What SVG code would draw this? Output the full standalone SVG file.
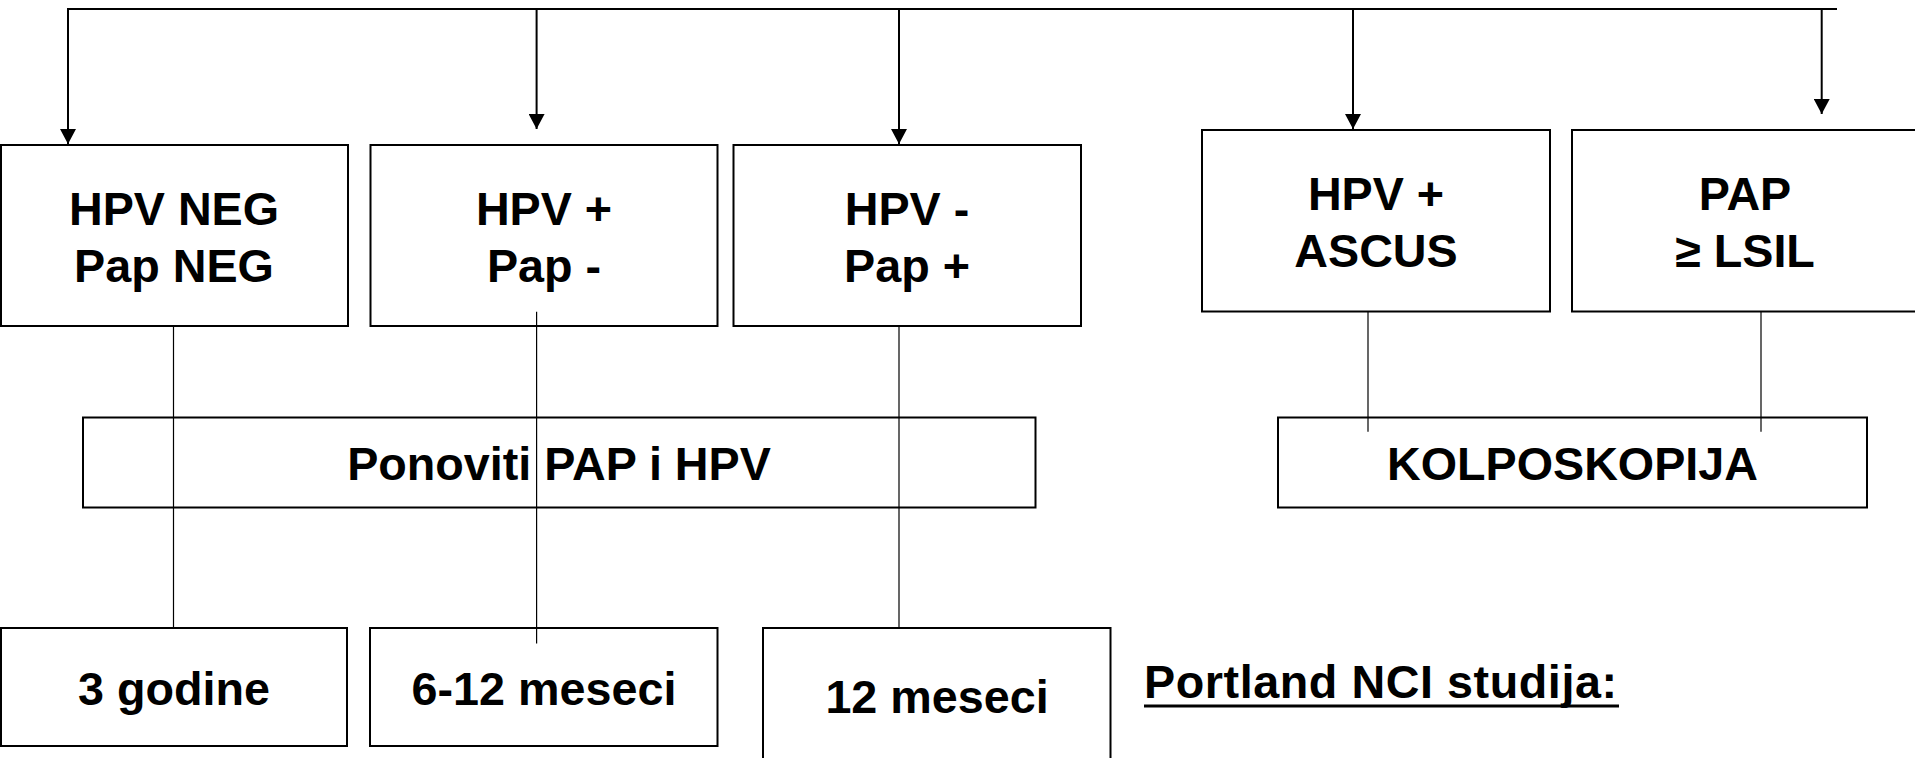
<svg xmlns="http://www.w3.org/2000/svg" width="1915" height="758" viewBox="0 0 1915 758">
<defs>
<style>
.box{fill:#fff;stroke:#000;stroke-width:2}
.t{font-family:"Liberation Sans",Arial,sans-serif;font-weight:bold;font-size:46.7px;fill:#000;text-anchor:middle}
.arr{stroke:#000;stroke-width:2;fill:none}
.thin{stroke:#000;stroke-width:1.2;fill:none}
</style>
<marker id="ah" markerWidth="15" markerHeight="16" refX="15" refY="8" orient="auto" markerUnits="userSpaceOnUse" viewBox="0 0 15 16">
<path d="M0,0 L15,8 L0,16 Z" fill="#000"/>
</marker>
</defs>
<rect width="1915" height="758" fill="#fff"/>
<g id="n1"><rect class="box" x="1" y="145" width="347" height="181"/><text class="t" x="174" y="225">HPV NEG</text><text class="t" x="174" y="282">Pap NEG</text></g>
<g id="n2"><rect class="box" x="370.5" y="145" width="347" height="181"/><text class="t" x="544" y="225">HPV +</text><text class="t" x="544" y="282">Pap -</text></g>
<g id="n3"><rect class="box" x="733.5" y="145" width="347.5" height="181"/><text class="t" x="907" y="225">HPV -</text><text class="t" x="907" y="282">Pap +</text></g>
<g id="n4"><rect class="box" x="1202" y="130" width="348" height="181.5"/><text class="t" x="1376" y="210">HPV +</text><text class="t" x="1376" y="267">ASCUS</text></g>
<g id="n5"><rect class="box" x="1572" y="130" width="350" height="181.5"/><text class="t" x="1745" y="210">PAP</text><text class="t" x="1745" y="267">≥ LSIL</text></g>
<g id="n6"><rect class="box" x="83" y="417.5" width="952.5" height="90"/><text class="t" x="559" y="480">Ponoviti PAP i HPV</text></g>
<g id="n7"><rect class="box" x="1278" y="417.5" width="589" height="90"/><text class="t" x="1572.5" y="480">KOLPOSKOPIJA</text></g>
<g id="n8"><rect class="box" x="1" y="628" width="346" height="118"/><text class="t" x="174" y="705">3 godine</text></g>
<g id="n9"><rect class="box" x="370" y="628" width="347.5" height="118"/><text class="t" x="544" y="705">6-12 meseci</text></g>
<g id="n10"><rect class="box" x="763" y="628" width="347.5" height="140"/><text class="t" x="937" y="713">12 meseci</text></g>
<g id="n11"><text class="t" x="1144" y="698" style="text-anchor:start" textLength="473" lengthAdjust="spacing">Portland NCI studija:</text><line x1="1144" y1="706" x2="1619" y2="706" stroke="#000" stroke-width="3"/></g>
<g id="connectors">
<polyline class="arr" points="1837,9 68,9 68,144" marker-end="url(#ah)"/>
<line class="arr" x1="536.6" y1="9" x2="536.6" y2="129" marker-end="url(#ah)"/>
<line class="arr" x1="899" y1="9" x2="899" y2="144" marker-end="url(#ah)"/>
<line class="arr" x1="1353" y1="9" x2="1353" y2="129" marker-end="url(#ah)"/>
<line class="arr" x1="1821.7" y1="9" x2="1821.7" y2="114" marker-end="url(#ah)"/>
<line class="thin" x1="173.5" y1="326" x2="173.5" y2="628"/>
<line class="thin" x1="536.6" y1="311.7" x2="536.6" y2="643.5"/>
<line class="thin" x1="899" y1="326" x2="899" y2="628"/>
<line class="thin" x1="1368" y1="311.5" x2="1368" y2="431.7"/>
<line class="thin" x1="1761" y1="311.5" x2="1761" y2="431.7"/>
</g>
</svg>
